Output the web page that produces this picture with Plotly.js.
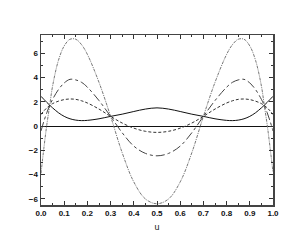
<!DOCTYPE html>
<html><head><meta charset="utf-8">
<script src="https://cdn.plot.ly/plotly-3.0.1.min.js"></script>
<style>html,body{margin:0;padding:0;background:#fff}#c{width:305px;height:248px}</style>
</head><body><div id="c"></div>
<script>
const u = [0,0.0125,0.025,0.0375,0.05,0.075,0.1,0.125,0.15,0.175,0.2,0.25,0.3,0.35,0.4,0.45,0.5,
           0.55,0.6,0.65,0.7,0.75,0.8,0.825,0.85,0.875,0.9,0.925,0.95,0.9625,0.975,0.9875,1];
const solid   = [2.45,2.2,1.95,1.72,1.5,1.1,0.8,0.6,0.49,0.45,0.47,0.6,0.8,0.98,1.2,1.4,1.5,
                 1.4,1.2,0.98,0.8,0.6,0.47,0.45,0.49,0.6,0.8,1.1,1.5,1.72,1.95,2.2,2.45];
const dashed  = [0.95,1.25,1.5,1.7,1.85,2.05,2.18,2.23,2.2,2.08,1.9,1.4,0.8,0.25,-0.17,-0.43,-0.52,
                 -0.43,-0.17,0.25,0.8,1.4,1.9,2.08,2.2,2.23,2.18,2.05,1.85,1.7,1.5,1.25,0.95];
const dashdot = [-0.4,0.4,1.1,1.7,2.2,3.0,3.55,3.85,3.8,3.6,3.2,2.1,0.8,-0.55,-1.65,-2.25,-2.45,
                 -2.25,-1.65,-0.55,0.8,2.1,3.2,3.6,3.8,3.85,3.55,3.0,2.2,1.7,1.1,0.4,-0.4];
const dotted  = [-3.9,-1.8,0.1,1.7,3.3,5.4,6.6,7.15,7.15,6.7,5.9,3.6,0.8,-2.2,-4.6,-6.0,-6.4,
                 -6.0,-4.6,-2.2,0.8,3.6,5.9,6.7,7.15,7.15,6.6,5.4,3.3,1.7,0.1,-1.8,-3.8];

const mk = (y, color, dash, w) => ({x:u, y:y, mode:'lines', type:'scatter',
  line:{color:color, dash:dash, width:w, shape:'spline', smoothing:1}, hoverinfo:'skip'});
const data = [
  mk(dotted,'#777','3px,1px,1px,1px',1),
  mk(dashdot,'#444','dashdot',1),
  mk(dashed,'#333','3px,2px',1),
  mk(solid,'#111','solid',1)
];
const tf = {family:'Liberation Sans, Arial, sans-serif', size:8, color:'#111', weight:'bold'};
const layout = {
  width:305, height:248, margin:{l:41,r:32,t:35,b:43},
  paper_bgcolor:'#fff', plot_bgcolor:'#fff', showlegend:false,
  xaxis:{range:[0,1], dtick:0.1, tickformat:'.1f', ticks:'inside', ticklen:4, tickcolor:'#333',
    showline:true, linecolor:'#444', linewidth:1.5, mirror:'ticks', showgrid:false, zeroline:false,
    tickfont:tf, minor:{dtick:0.05, ticks:'inside', ticklen:2, tickcolor:'#333'},
    title:{text:'u', font:{family:'Liberation Sans, Arial, sans-serif', size:9, color:'#222'}, standoff:6}},
  yaxis:{range:[-6.5,7.5], dtick:2, ticks:'inside', ticklen:4, tickcolor:'#333',
    showline:true, linecolor:'#444', linewidth:1.5, mirror:'ticks', showgrid:false,
    zeroline:true, zerolinecolor:'#111', zerolinewidth:1,
    tickfont:tf, minor:{dtick:1, ticks:'inside', ticklen:2, tickcolor:'#333'}}
};
Plotly.newPlot('c', data, layout, {staticPlot:true, displayModeBar:false});
</script></body></html>
